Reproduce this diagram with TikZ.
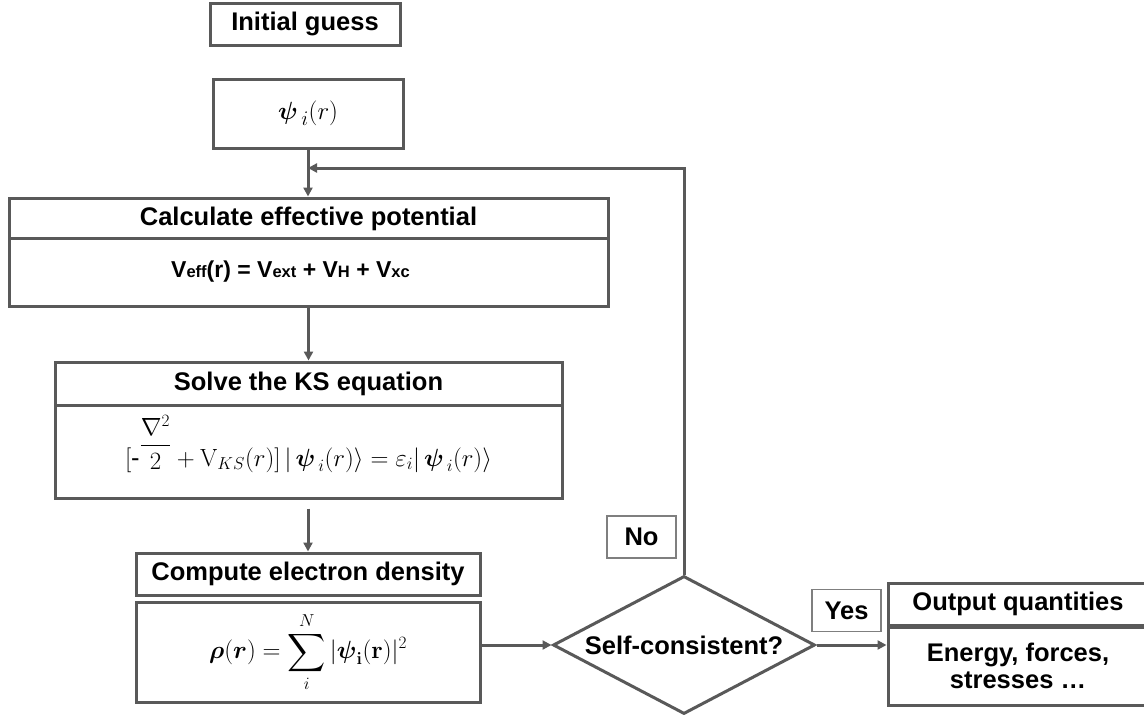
\documentclass[tikz,border=0pt]{standalone}
\usepackage{amsmath,amssymb}
\usepackage[no-math]{fontspec}
\setmainfont{Liberation Sans}
\usetikzlibrary{shapes.geometric,arrows.meta}
\definecolor{edgegray}{HTML}{595959}
\definecolor{taggray}{HTML}{7F7F7F}
\newcommand{\subtxt}[1]{{\fontsize{16.5}{20}\selectfont #1}}
\tikzset{
  box/.style={draw=edgegray, line width=3pt, fill=white, inner sep=0pt,
    font=\bfseries\fontsize{25.5}{27}\selectfont, align=center},
  tag/.style={draw=taggray, line width=1.3pt, fill=white, inner sep=0pt,
    minimum width=69pt, minimum height=42pt, font=\bfseries\fontsize{25.5}{27}\selectfont},
  decide/.style={diamond, aspect=1.9, draw=edgegray, line width=3pt,
    inner xsep=-80pt, inner ysep=-12pt,
    minimum width=262pt, minimum height=138pt, font=\bfseries\fontsize{25.5}{27}\selectfont},
  flow/.style={draw=edgegray, line width=3pt, -{Triangle[length=9pt,width=9pt]}}
}
\begin{document}
\begin{tikzpicture}[x=1pt, y=-1pt]
\useasboundingbox[fill=white] (0,0) rectangle (1144,715);
% nodes
\node[box, minimum width=190pt, minimum height=42pt] (init) at (305,24) {Initial guess};
\node[box, minimum width=190pt, minimum height=69pt, font=\fontsize{29}{32}\selectfont] (psi) at (308,113.5) {$\boldsymbol{\psi}_{\,i}(r)$};

\node[box, minimum width=599pt, minimum height=42pt] (calc) at (308.5,219) {Calculate effective potential};
\node[box, minimum width=599pt, minimum height=68pt, font=\bfseries\fontsize{23}{26}\selectfont] (calcEq) at (308.5,272)
  {V\subtxt{eff}(r) = V\subtxt{ext} + V\subtxt{H} + V\subtxt{xc}\hspace*{36pt}};

\node[box, minimum width=507pt, minimum height=43pt] (solve) at (308.5,383.5) {Solve the KS equation};
\node[box, minimum width=507pt, minimum height=93pt, text depth=22pt, font=\fontsize{25.5}{28}\selectfont] (solveEq) at (308.5,451.5)
  {$[\text{-}\raisebox{0.55em}{$\dfrac{\nabla^2}{2}$}+\mathrm{V}_{KS}(r)]\,|\,\boldsymbol{\psi}_{\,i}(r)\rangle=\varepsilon_i|\,\boldsymbol{\psi}_{\,i}(r)\rangle$};

\node[box, minimum width=344pt, minimum height=42pt] (dens) at (308,574) {Compute electron density};
\node[box, minimum width=344pt, minimum height=100pt, font=\fontsize{26.5}{30}\selectfont] (densEq) at (308,652)
  {$\boldsymbol{\rho}(\boldsymbol{r})=\displaystyle\sum_{i}^{N}|\boldsymbol{\psi}_{\mathbf{i}}(\mathbf{r})|^2$};

\node[decide] (scf) at (684,645) {Self-consistent?};

\node[box, minimum width=260pt, minimum height=42pt] (out) at (1018,604) {Output quantities};
\node[box, minimum width=260pt, minimum height=78pt] (outEq) at (1018,666) {Energy, forces,\\ stresses \dots};

\node[tag] (no) at (641.5,537) {No};
\node[tag] (yes) at (846.5,610.5) {Yes};

\coordinate (loop) at (308,168);
% arrows
\draw[flow] (psi.south) -- (psi.south |- calc.north);
\draw[flow] (scf.north) |- (loop);
\draw[flow] (calcEq.south -| solve.north) -- (solve.north);
\draw[flow, shorten <=9pt] (solveEq.south -| dens.north) -- (dens.north);
\draw[flow] (densEq.east |- scf.west) -- (scf.west);
\draw[flow] (scf.east) -- (scf.east -| outEq.west);
\end{tikzpicture}
\end{document}
